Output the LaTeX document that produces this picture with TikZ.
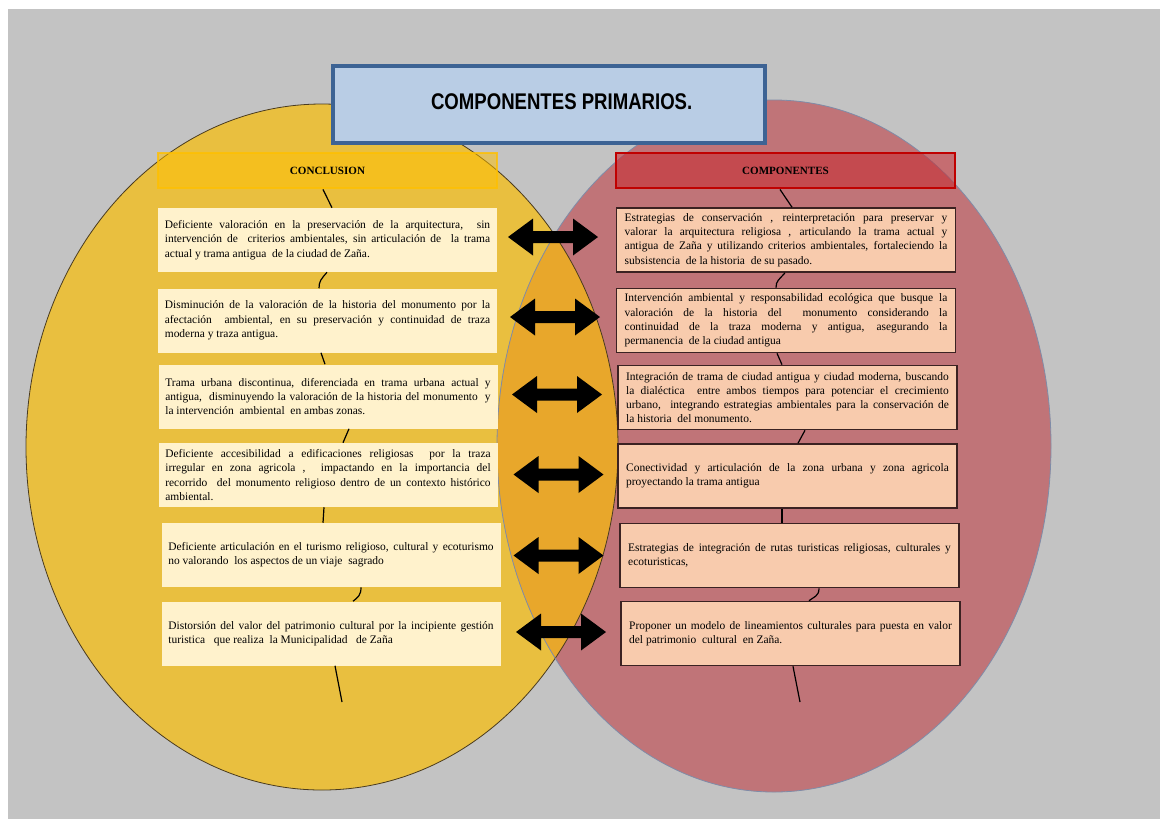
\documentclass[tikz,border=0pt]{standalone}
\usepackage{fontspec}
\setmainfont{Liberation Serif}
\newfontfamily\titlefont[FakeStretch=0.82]{Liberation Sans}
\usetikzlibrary{calc}
\definecolor{bggray}{HTML}{C3C3C3}
\definecolor{yell}{HTML}{E9BF3F}
\definecolor{pinkc}{HTML}{C07478}
\definecolor{lensc}{HTML}{E8A72B}
\definecolor{cream}{HTML}{FFF2CC}
\definecolor{peach}{HTML}{F8CBAD}
\definecolor{rborder}{HTML}{3B2222}
\definecolor{titlefill}{HTML}{B9CDE5}
\definecolor{titleborder}{HTML}{3D6394}
\definecolor{hyell}{HTML}{FFC000}
\definecolor{hred}{HTML}{C8282E}
\definecolor{hredb}{HTML}{C00000}
\definecolor{youtline}{HTML}{4A3B1F}
\definecolor{routline}{HTML}{7F8CA8}
\tikzset{
  body/.style={font=\fontsize{8.6}{10.7}\selectfont},
  lbox/.style={body, fill=cream, draw=none, minimum width=254.25pt, minimum height=48pt,
    text width=244pt, align=justify, inner sep=0pt},
  rbox/.style={body, fill=peach, draw=rborder, line width=1.2pt, minimum width=254.25pt, minimum height=48pt,
    text width=242pt, align=justify, inner sep=0pt},
  lhead/.style={fill=hyell, fill opacity=0.5, draw=hyell, draw opacity=0.8, line width=2.2pt,
    text opacity=1, minimum width=254.25pt, minimum height=26.25pt, inner sep=0pt,
    font=\fontsize{8.3}{10}\selectfont\bfseries},
  rhead/.style={fill=hred, fill opacity=0.55, draw=hredb, draw opacity=1, line width=2.2pt,
    text opacity=1, minimum width=254.25pt, minimum height=26.25pt, inner sep=0pt,
    font=\fontsize{8.3}{10}\selectfont\bfseries},
  conn/.style={draw=black, line width=0.9pt},
}
\newcommand{\dblarrow}[1]{\fill[black] ($(#1)+(-45,0)$) -- ++(25,-18.5) -- ++(0,12.5) -- ++(40,0) -- ++(0,-12.5) -- ++(25,18.5) -- ++(-25,18.5) -- ++(0,-12.5) -- ++(-40,0) -- ++(0,12.5) -- cycle;}
\begin{document}
\begin{tikzpicture}[x=0.75pt,y=-0.75pt]
\useasboundingbox (0,0) rectangle (1160,819);
\fill[white] (0,0) rectangle (1160,819);
\fill[bggray] (8,9) rectangle (1160,819);
% ellipses
\fill[yell] (322,447) ellipse [x radius=296, y radius=343];
\fill[pinkc] (774,446) ellipse [x radius=277, y radius=346];
\begin{scope}
  \clip (322,447) ellipse [x radius=296, y radius=343];
  \fill[lensc] (774,446) ellipse [x radius=277, y radius=346];
\end{scope}
\draw[youtline, line width=0.6pt] (322,447) ellipse [x radius=296, y radius=343];
\draw[routline, line width=0.6pt] (774,446) ellipse [x radius=277, y radius=346];
% title
\node[fill=titlefill, draw=titleborder, line width=3pt, minimum width=324pt, minimum height=57.75pt, inner sep=0pt,
  font=\titlefont\fontsize{17}{20}\selectfont\bfseries] (title) at (549,104.5) {\raisebox{4pt}{\hspace*{19pt}COMPONENTES PRIMARIOS.}};
% headers
\node[lhead] (LH) at (327.5,170.5) {CONCLUSION};
\node[rhead] (RH) at (785.5,170.5) {COMPONENTES};
\coordinate (Lend) at (342,702);
\coordinate (Rend) at (800,702);
% left boxes
\node[lbox] (L1) at (327.5,240) {Deficiente valoración en la preservación de la arquitectura,\ \ sin\linebreak intervención de \ criterios ambientales, sin articulación de \ la trama\linebreak actual y trama antigua \ de la ciudad de Zaña.};
\node[lbox] (L2) at (327.5,320.5) {Disminución de la valoración de la historia del monumento por la\linebreak afectación \ ambiental, en su preservación y continuidad de traza\linebreak moderna y traza antigua.};
\node[lbox] (L3) at (328,396.5) {Trama urbana discontinua, diferenciada en trama urbana actual y\linebreak antigua, \ disminuyendo la valoración de la historia del monumento \ y\linebreak la intervención \ ambiental \ en ambas zonas.};
\node[lbox] (L4) at (328,475) {Deficiente accesibilidad a edificaciones religiosas \ por la traza\linebreak irregular en zona agricola , \ impactando en la importancia del\linebreak recorrido \ del monumento religioso dentro de un contexto histórico\linebreak ambiental.};
\node[lbox] (L5) at (331,555) {Deficiente articulación en el turismo religioso, cultural y ecoturismo\linebreak no valorando \ los aspectos de un viaje \ sagrado};
\node[lbox] (L6) at (331,633.5) {Distorsión del valor del patrimonio cultural por la incipiente gestión\linebreak turistica \ \ que realiza \ la Municipalidad \ \ de Zaña};
% right boxes
\node[rbox] (R1) at (786,240) {Estrategias de conservación , reinterpretación para preservar y\linebreak valorar la arquitectura religiosa , articulando la trama actual y\linebreak antigua de Zaña y utilizando criterios ambientales, fortaleciendo la\linebreak subsistencia \ de la historia \ de su pasado.};
\node[rbox] (R2) at (786,320.5) {Intervención ambiental y responsabilidad ecológica que busque la\linebreak valoración de la historia del \ monumento considerando la\linebreak continuidad de la traza moderna y antigua, asegurando la\linebreak permanencia \ de la ciudad antigua};
\node[rbox] (R3) at (787.5,397.5) {Integración de trama de ciudad antigua y ciudad moderna, buscando\linebreak la dialéctica \ entre ambos tiempos para potenciar el crecimiento\linebreak urbano, \ integrando estrategias ambientales para la conservación de\linebreak la historia \ del monumento.};
\node[rbox] (R4) at (787.5,476) {Conectividad y articulación de la zona urbana y zona agricola\linebreak proyectando la trama antigua};
\node[rbox] (R5) at (789.5,555.5) {Estrategias de integración de rutas turisticas religiosas, culturales y\linebreak ecoturisticas,};
\node[rbox] (R6) at (790.5,633.5) {Proponer un modelo de lineamientos culturales para puesta en valor\linebreak del patrimonio \ cultural \ en Zaña.};
% connectors
\draw[conn] (323,0 |- LH.south) -- (332,0 |- L1.north);
\draw[conn] (327,0 |- L1.south) .. controls +(-6,7) and +(0,-7) .. (319,0 |- L2.north);
\draw[conn] (321,0 |- L2.south) -- (325,0 |- L3.north);
\draw[conn] (349,0 |- L3.south) -- (343,0 |- L4.north);
\draw[conn] (324,0 |- L4.south) -- (323,0 |- L5.north);
\draw[conn] (361,0 |- L5.south) .. controls +(0,8) and +(5,-4) .. (353,0 |- L6.north);
\draw[conn] (335,0 |- L6.south) -- (Lend);
\draw[conn] (780,0 |- RH.south) -- (792,0 |- R1.north);
\draw[conn] (785,0 |- R1.south) .. controls +(-6,7) and +(0,-7) .. (776,0 |- R2.north);
\draw[conn] (777,0 |- R2.south) -- (782,0 |- R3.north);
\draw[conn] (805,0 |- R3.south) -- (798,0 |- R4.north);
\draw[conn] (782,0 |- R4.south) -- (782,0 |- R5.north);
\draw[conn] (819,0 |- R5.south) .. controls +(0,8) and +(5,-4) .. (809,0 |- R6.north);
\draw[conn] (793,0 |- R6.south) -- (Rend);
% arrows
\coordinate (A1) at (553,237);
\coordinate (A2) at (555,317);
\coordinate (A3) at (557,394.5);
\coordinate (A4) at (558.5,474.5);
\coordinate (A5) at (558.5,555.5);
\coordinate (A6) at (561,632);
\dblarrow{A1}\dblarrow{A2}\dblarrow{A3}\dblarrow{A4}\dblarrow{A5}\dblarrow{A6}
\end{tikzpicture}
\end{document}
